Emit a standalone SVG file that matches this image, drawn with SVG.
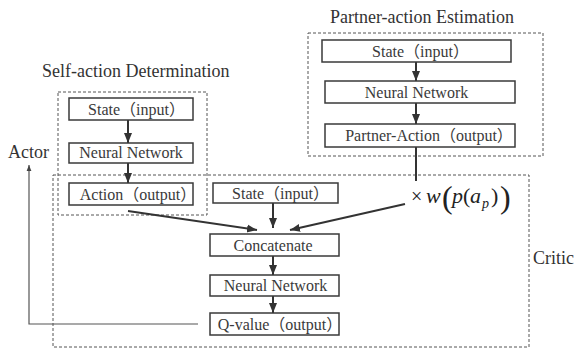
<svg xmlns="http://www.w3.org/2000/svg" width="574" height="349" viewBox="0 0 574 349">
<style>
.bg{fill:#ffffff}
.box{fill:#ffffff;stroke:#3a3a3a;stroke-width:1.5}
.grp{fill:none;stroke:#555;stroke-width:1;stroke-dasharray:3,2}
.t{font-family:"Liberation Serif","Noto Sans CJK SC",serif;font-size:16px;fill:#3a3a3a;text-anchor:middle}
.title{font-family:"Liberation Serif",serif;font-size:18px;fill:#333}
.arr{fill:none;stroke:#333;stroke-width:2}
.thin{fill:none;stroke:#555;stroke-width:1.2}
.math{font-family:"Liberation Serif","DejaVu Serif",serif;fill:#222}
</style>
<defs>
<marker id="ah" markerUnits="userSpaceOnUse" markerWidth="10" markerHeight="10" viewBox="0 0 10 10" refX="10" refY="5" orient="auto">
<path d="M0,1 L10,5 L0,9 Z" fill="#333"/>
</marker>
<marker id="ahs" markerUnits="userSpaceOnUse" markerWidth="6" markerHeight="6" viewBox="0 0 10 10" refX="10" refY="5" orient="auto">
<path d="M0,1 L10,5 L0,9 Z" fill="#444"/>
</marker>
</defs>
<rect class="bg" x="0" y="0" width="574" height="349"/>

<g id="groups">
<rect id="self-group" class="grp" x="58" y="92" width="149" height="123"/>
<rect id="partner-group" class="grp" x="308" y="33" width="235" height="123"/>
<rect id="critic-group" class="grp" x="53" y="175" width="476" height="172"/>
</g>

<g id="labels">
<text class="title" x="42" y="77">Self-action Determination</text>
<text class="title" x="330" y="23">Partner-action Estimation</text>
<text class="title" x="8" y="158">Actor</text>
<text class="title" x="533" y="264">Critic</text>
</g>

<g id="connectors">
<line class="arr" x1="128" y1="120" x2="128" y2="143" marker-end="url(#ah)"/>
<line class="arr" x1="128" y1="163" x2="128" y2="183" marker-end="url(#ah)"/>
<line class="arr" x1="416" y1="62" x2="416" y2="81" marker-end="url(#ah)"/>
<line class="arr" x1="416" y1="103" x2="416" y2="124" marker-end="url(#ah)"/>
<line class="arr" x1="416" y1="147" x2="416" y2="181"/>
<line class="arr" x1="128" y1="211" x2="257" y2="230" marker-end="url(#ah)"/>
<line class="arr" x1="405" y1="204" x2="290" y2="230" marker-end="url(#ah)"/>
<line class="arr" x1="273" y1="203" x2="273" y2="228" marker-end="url(#ah)"/>
<line class="arr" x1="273" y1="256" x2="273" y2="275" marker-end="url(#ah)"/>
<line class="arr" x1="273" y1="296" x2="273" y2="313" marker-end="url(#ah)"/>
<polyline class="thin" points="198,324 29,324 29,165" marker-end="url(#ahs)"/>
</g>

<g id="self-state"><rect class="box" x="69" y="98" width="124" height="22"/><text class="t" x="136.5" y="115">State（input）</text></g>
<g id="self-nn"><rect class="box" x="69" y="143" width="124" height="20"/><text class="t" x="131" y="158">Neural Network</text></g>
<g id="self-action"><rect class="box" x="69" y="183" width="124" height="22"/><text class="t" x="138" y="199.5">Action（output）</text></g>

<g id="partner-state"><rect class="box" x="322" y="40" width="189" height="22"/><text class="t" x="420.5" y="56.5">State（input）</text></g>
<g id="partner-nn"><rect class="box" x="325" y="81" width="190" height="22"/><text class="t" x="416.5" y="97.5">Neural Network</text></g>
<g id="partner-action"><rect class="box" x="325" y="124" width="190" height="23"/><text class="t" x="429" y="141">Partner-Action（output）</text></g>

<g id="critic-state"><rect class="box" x="213" y="183" width="125" height="20"/><text class="t" x="280.5" y="198.5">State（input）</text></g>
<g id="concatenate"><rect class="box" x="210" y="234" width="129" height="22"/><text class="t" x="273" y="250.5">Concatenate</text></g>
<g id="critic-nn"><rect class="box" x="210" y="275" width="129" height="21"/><text class="t" x="275.5" y="291">Neural Network</text></g>
<g id="q-value"><rect class="box" x="210" y="313" width="129" height="22"/><text class="t" x="280" y="329.5">Q-value（output）</text></g>

<g id="weight">
<text class="math"><tspan x="411" y="203" font-size="20">×</tspan><tspan x="426" y="203" font-size="22" font-style="italic">w</tspan><tspan x="442" y="208" font-size="32">(</tspan><tspan x="452" y="203" font-size="22" font-style="italic">p</tspan><tspan x="463" y="203" font-size="22">(</tspan><tspan x="470" y="203" font-size="22" font-style="italic">a</tspan><tspan x="482" y="208" font-size="14" font-style="italic">p</tspan><tspan x="491" y="203" font-size="22">)</tspan><tspan x="500" y="208" font-size="32">)</tspan></text>
</g>
</svg>
